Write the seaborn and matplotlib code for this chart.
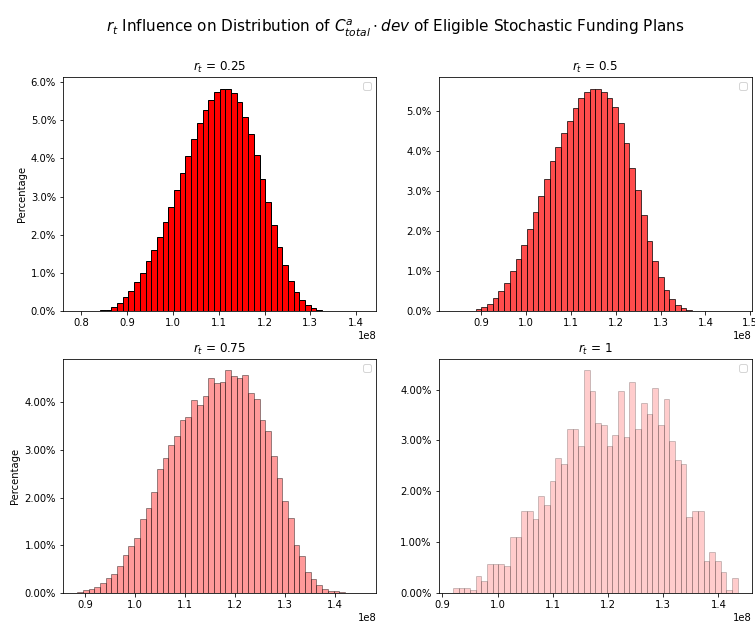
import numpy as np
import pandas as pd
import matplotlib
matplotlib.use("Agg")
import matplotlib.pyplot as plt
from matplotlib.ticker import PercentFormatter
import seaborn as sns

# ---- data (percent of plans per bin, 50 bins each) ----
rt_labels = ["0.25", "0.5", "0.75", "1"]

# bin ranges (in units of 1e8)
range_025 = (0.791, 1.413)
range_050 = (0.837, 1.472)
range_075 = (0.8843, 1.4538)
range_100 = (0.919, 1.435)

pct_025 = [0.003, 0, 0, 0,
           0.03, 0.05, 0.11, 0.21, 0.37, 0.53, 0.76, 1.01, 1.31, 1.61,
           1.96, 2.35, 2.73, 3.18, 3.62, 4.07, 4.51, 4.93, 5.27, 5.54,
           5.74, 5.83, 5.83, 5.70, 5.47, 5.08, 4.64, 4.09, 3.47, 2.85,
           2.26, 1.68, 1.21, 0.80, 0.52, 0.31, 0.17, 0.10, 0.05, 0.02,
           0, 0, 0, 0, 0, 0.003]

pct_050 = [0.003, 0, 0,
           0.02, 0.05, 0.11, 0.18, 0.33, 0.50, 0.70, 1.01, 1.32, 1.65,
           2.07, 2.48, 2.88, 3.32, 3.75, 4.11, 4.46, 4.77, 5.08, 5.33,
           5.48, 5.57, 5.57, 5.48, 5.33, 5.10, 4.70, 4.22, 3.58, 3.03,
           2.42, 1.77, 1.25, 0.87, 0.54, 0.30, 0.15, 0.08, 0.03, 0.01,
           0, 0, 0, 0, 0, 0, 0.003]

pct_075 = [0.01, 0.05, 0.09, 0.13, 0.21, 0.31, 0.40, 0.57, 0.80, 0.98,
           1.14, 1.54, 1.79, 2.12, 2.59, 2.83, 3.11, 3.29, 3.62, 3.69,
           4.04, 3.94, 4.14, 4.50, 4.40, 4.42, 4.68, 4.55, 4.51, 4.57,
           4.20, 4.06, 3.62, 3.40, 2.87, 2.41, 1.93, 1.56, 1.01, 0.78,
           0.44, 0.29, 0.17, 0.09, 0.03, 0.03, 0.01, 0, 0, 0.003]

pct_100 = [0.10, 0.10, 0.10, 0.05, 0.34, 0.24, 0.57, 0.57, 0.57, 0.52,
           1.10, 1.10, 1.62, 1.62, 1.45, 1.90, 1.72, 2.20, 2.66, 2.53,
           3.23, 3.23, 2.89, 4.39, 3.98, 3.35, 3.30, 2.89, 3.11, 3.98,
           3.06, 4.15, 3.23, 3.74, 3.52, 4.04, 3.30, 3.82, 2.99, 2.61,
           2.53, 1.50, 1.62, 1.62, 0.62, 0.81, 0.62, 0.40, 0.05, 0.30]

panels = [
    (rt_labels[0], range_025, pct_025, 1.0, 1),
    (rt_labels[1], range_050, pct_050, 0.7, 1),
    (rt_labels[2], range_075, pct_075, 0.4, 2),
    (rt_labels[3], range_100, pct_100, 0.2, 2),
]

fig, axes = plt.subplots(2, 2, figsize=(755 / 72, 624 / 72), dpi=72)
fig.subplots_adjust(left=0.0834, right=0.996, top=0.876, bottom=0.050,
                    wspace=0.199, hspace=0.202)

for i, (ax, (lab, rng, pct, alpha, dec)) in enumerate(zip(axes.flat, panels)):
    lo, hi = rng[0] * 1e8, rng[1] * 1e8
    nb = len(pct)
    width = (hi - lo) / nb
    centers = lo + width * (np.arange(nb) + 0.5)
    df = pd.DataFrame({"value": centers, "w": np.array(pct) / 100.0})
    sns.histplot(data=df, x="value", weights="w", bins=nb, binrange=(lo, hi),
                 ax=ax, color="red", alpha=alpha,
                 edgecolor=(0, 0, 0, alpha), linewidth=1)
    ax.yaxis.set_major_formatter(PercentFormatter(xmax=1, decimals=dec))
    ax.set_title(r"$r_t$ = " + lab, fontsize=12)
    ax.set_xlabel("")
    ax.set_ylabel("Percentage" if i % 2 == 0 else "")
    ax.legend(handles=[], loc="upper right")

fig.suptitle(r"$r_t$ Influence on Distribution of $C^a_{total} \cdot dev$ of Eligible Stochastic Funding Plans",
             fontsize=15.2, x=0.524, y=0.972)

fig.savefig("out.png", dpi=72)
